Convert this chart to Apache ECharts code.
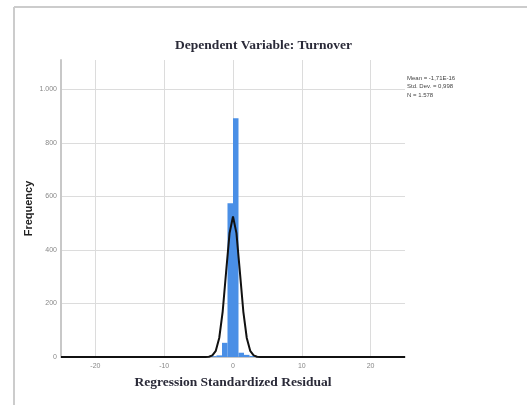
<!DOCTYPE html>
<html>
<head>
<meta charset="utf-8">
<script src="https://cdn.jsdelivr.net/npm/echarts@6/dist/echarts.min.js"></script>
<style>
  html, body { margin: 0; padding: 0; background: #fff; }
  #chart { width: 527px; height: 405px; }
</style>
</head>
<body>
<div id="chart"></div>
<script>
// histogram bins (residual range) and counts
const binStart = [-3.2, -2.4, -1.6, -0.8, 0, 0.8, 1.6, 2.4]
const binEnd = [-2.4, -1.6, -0.8, 0, 0.8, 1.6, 2.4, 3.2]
const binCount = [3, 6, 53, 575, 892, 16, 8, 4]

// normal curve
const curveX = [-25, -4, -3.5, -3, -2.5, -2, -1.5, -1, -0.5, 0, 0.5, 1, 1.5, 2, 2.5, 3, 3.5, 4, 25]
const curveY = [0, 0, 1, 6, 23, 71, 170, 318, 463, 525, 463, 318, 170, 71, 23, 6, 1, 0, 0]

const statLines = ['Mean = -1,71E-16', 'Std. Dev. = 0,998', 'N = 1.578']

let myChart = echarts.init(document.getElementById('chart'))

let bars = binStart.map((s, i) => [s, binEnd[i], binCount[i]])
let curve = curveX.map((x, i) => [x, curveY[i]])

myChart.setOption({
  animation: false,
  title: {
    text: 'Dependent Variable: Turnover',
    left: 'center',
    top: 34,
    textStyle: {
      fontFamily: 'Liberation Serif',
      fontWeight: 'bold',
      fontSize: 13.5,
      color: '#2a2a38'
    }
  },
  grid: {
    left: 61,
    right: 122,
    top: 60,
    bottom: 48
  },
  xAxis: {
    type: 'value',
    min: -25,
    max: 25,
    name: 'Regression Standardized Residual',
    nameLocation: 'middle',
    nameGap: 19,
    nameTextStyle: {
      fontFamily: 'Liberation Serif',
      fontWeight: 'bold',
      fontSize: 13.5,
      color: '#2a2a38'
    },
    axisLine: { lineStyle: { color: '#c8c8c8', width: 2 } },
    axisTick: { show: false },
    axisLabel: {
      showMinLabel: false,
      showMaxLabel: false,
      fontFamily: 'Liberation Sans',
      fontSize: 7,
      color: '#888',
      margin: 6
    },
    splitLine: {
      showMinLine: false,
      showMaxLine: false,
      lineStyle: { color: '#dcdcdc', width: 1 }
    }
  },
  yAxis: {
    type: 'value',
    min: 0,
    max: 1110,
    interval: 200,
    name: 'Frequency',
    nameLocation: 'middle',
    nameGap: 27,
    nameMoveOverlap: false,
    nameTextStyle: {
      fontFamily: 'Liberation Sans',
      fontWeight: 'bold',
      fontSize: 11,
      color: '#222'
    },
    axisLine: { show: true, onZero: false, lineStyle: { color: '#c8c8c8', width: 2 } },
    axisTick: { show: false },
    axisLabel: {
      showMaxLabel: false,
      fontFamily: 'Liberation Sans',
      fontSize: 7,
      color: '#888',
      margin: 4,
      formatter: v => v >= 1000 ? Math.floor(v / 1000) + '.' + String(v % 1000).padStart(3, '0') : String(v)
    },
    splitLine: {
      showMinLine: false,
      showMaxLine: false,
      lineStyle: { color: '#dcdcdc', width: 1 }
    }
  },
  graphic: [
    {
      type: 'line',
      shape: { x1: 14, y1: 7, x2: 14, y2: 405 },
      style: { stroke: '#cccccc', lineWidth: 2 }
    },
    {
      type: 'line',
      shape: { x1: 14, y1: 7, x2: 527, y2: 7 },
      style: { stroke: '#cccccc', lineWidth: 2 }
    },
    {
      type: 'text',
      left: 407,
      top: 74,
      style: {
        text: statLines.join('\n'),
        font: '6px "Liberation Sans"',
        lineHeight: 8.5,
        fill: '#444'
      }
    }
  ],
  series: [
    {
      type: 'custom',
      name: 'Frequency',
      data: bars,
      encode: { x: [0, 1], y: 2 },
      renderItem (params, api) {
        let p0 = api.coord([api.value(0), api.value(2)])
        let p1 = api.coord([api.value(1), 0])
        return {
          type: 'rect',
          shape: { x: p0[0], y: p0[1], width: p1[0] - p0[0], height: p1[1] - p0[1] },
          style: { fill: '#4a8fe6' }
        }
      },
      z: 2
    },
    {
      type: 'line',
      name: 'Normal',
      data: curve,
      showSymbol: false,
      lineStyle: { color: '#111', width: 2 },
      z: 3
    }
  ]
})
</script>
</body>
</html>
